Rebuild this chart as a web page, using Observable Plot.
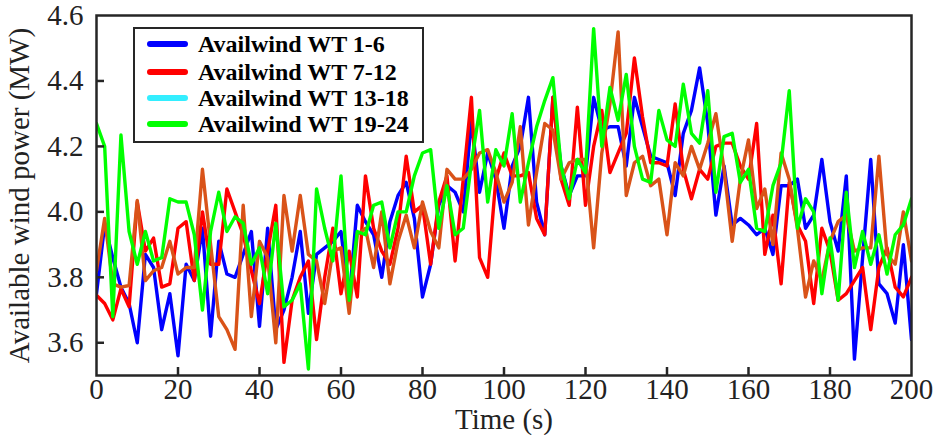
<!DOCTYPE html>
<html><head><meta charset="utf-8">
<script src="https://cdn.jsdelivr.net/npm/d3@7"></script>
<script src="https://cdn.jsdelivr.net/npm/@observablehq/plot@0.6"></script>
<style>
body{margin:0;background:#fff;}
#wrap{position:relative;width:933px;height:435px;}
#legend{position:absolute;left:133px;top:27px;width:287px;height:112px;border:2px solid #262626;background:#fff;font-family:"Liberation Serif";font-weight:bold;font-size:24px;color:#000;}
.row{position:absolute;left:0;height:26px;display:flex;align-items:center;white-space:nowrap;}
.sw{width:41px;height:6px;border-radius:3px;margin-left:12px;margin-right:10px;}
</style></head>
<body><div id="wrap"><div id="chart"></div><div id="legend"></div></div>
<script>
const time = [0,2,4,6,8,10,12,14,16,18,20,22,24,26,28,30,32,34,36,38,40,42,44,46,48,50,52,54,56,58,60,62,64,66,68,70,72,74,76,78,80,82,84,86,88,90,92,94,96,98,100,102,104,106,108,110,112,114,116,118,120,122,124,126,128,130,132,134,136,138,140,142,144,146,148,150,152,154,156,158,160,162,164,166,168,170,172,174,176,178,180,182,184,186,188,190,192,194,196,198,200];

const wt1_6 = [3.75,3.96,3.86,3.77,3.72,3.60,3.87,3.83,3.64,3.75,3.56,3.84,3.79,3.95,3.62,3.91,3.81,3.80,3.87,3.94,3.65,3.95,3.64,3.70,3.80,3.94,3.69,3.87,3.89,3.91,3.94,3.73,4.02,3.97,3.93,3.80,3.97,4.05,4.09,3.98,3.74,3.84,4.02,4.08,4.06,4.00,4.28,4.06,4.18,4.10,3.95,4.14,4.20,4.35,4.03,3.93,4.35,4.14,4.05,4.11,4.11,4.35,4.25,4.26,4.26,4.14,4.35,4.26,4.17,4.16,4.15,4.05,4.24,4.31,4.44,4.27,3.99,4.14,3.96,3.98,3.96,3.93,3.95,3.87,4.08,4.08,4.10,3.95,3.99,4.16,3.97,3.88,4.11,3.55,3.86,4.16,3.78,3.75,3.66,3.90,3.61];

const wt7_12 = [3.745,3.72,3.67,3.765,3.71,4.03,3.88,3.92,3.77,3.78,3.95,3.97,3.79,4.00,3.84,3.84,4.07,4.00,3.93,3.82,3.72,3.88,4.02,3.54,3.73,3.80,3.85,3.61,3.80,3.95,3.75,3.88,3.74,4.11,3.95,3.88,3.84,3.95,4.17,4.00,4.02,3.84,4.03,4.11,3.85,4.10,4.35,3.86,3.80,4.10,4.18,4.11,4.11,4.12,3.98,3.93,4.35,4.10,4.02,4.32,4.02,4.20,4.31,4.12,4.18,4.24,4.47,4.29,4.15,4.15,4.14,4.33,4.13,4.04,4.13,4.10,4.20,4.21,4.21,4.14,4.10,4.27,3.87,3.99,3.78,4.09,3.96,3.91,3.72,3.95,3.88,3.73,3.75,3.79,3.83,3.64,3.83,3.89,3.77,3.74,3.80];

const wt13_18 = [3.82,3.98,3.78,3.77,3.775,4.035,3.79,3.82,3.83,3.91,3.81,3.83,3.83,4.13,3.90,3.68,3.64,3.58,4.02,3.68,3.91,3.86,3.60,4.05,3.88,4.05,3.87,3.85,3.72,3.88,3.89,3.69,3.93,3.95,3.83,4.00,3.78,3.91,3.99,3.89,4.03,3.94,3.89,4.13,4.10,4.10,4.13,4.18,4.19,4.12,4.03,4.09,4.26,3.96,4.12,4.27,4.25,4.10,4.15,4.16,4.16,3.89,4.18,4.33,4.55,4.05,4.15,4.17,4.08,4.10,3.93,4.15,4.11,4.20,4.13,4.21,4.30,4.13,3.91,4.10,4.22,4.01,4.07,3.90,4.18,4.10,3.95,3.74,3.85,3.79,3.91,3.97,3.99,3.88,3.89,3.89,4.17,3.87,3.84,4.00,3.85];

const wt19_24 = [4.27,4.20,3.68,4.235,3.94,3.84,3.94,3.85,3.86,4.04,4.03,4.03,3.93,3.70,3.94,4.06,3.94,3.985,3.965,3.84,3.89,3.75,3.965,3.71,3.73,3.78,3.52,4.07,3.95,3.85,4.11,3.73,3.94,3.93,4.02,4.03,3.89,4.00,4.00,4.11,4.18,4.19,3.95,4.08,3.93,3.95,4.15,4.31,4.03,4.19,4.14,4.30,4.03,4.15,4.26,4.34,4.41,4.14,4.04,4.16,4.12,4.56,4.20,4.38,4.28,4.42,4.20,4.10,4.09,4.31,4.22,4.20,4.39,4.24,4.21,4.37,4.06,4.23,4.24,4.09,4.13,3.95,3.94,4.08,4.15,4.37,3.95,4.04,4.00,3.75,3.92,3.73,4.06,3.83,3.94,3.84,3.93,3.81,3.93,3.96,4.04];

const seriesNames = ["Availwind WT 1-6", "Availwind WT 7-12", "Availwind WT 13-18", "Availwind WT 19-24"];
const lineColors = ["#0000ff", "#ff0000", "#d95319", "#00ff00"];
const legendColors = ["#0000ff", "#ff0000", "#33eeff", "#00ff00"];
const xTicks = [0,20,40,60,80,100,120,140,160,180,200];
const yTicks = [3.6,3.8,4.0,4.2,4.4,4.6];

const W = 933, H = 435, ML = 96, MR = 22, MT = 15, MB = 60, TICK = 8;

const seriesValues = [wt1_6, wt7_12, wt13_18, wt19_24];
const lineMarks = seriesValues.map((vals, i) =>
  Plot.line(time.map((t, j) => ({t, v: vals[j]})), {
    x: "t", y: "v", stroke: lineColors[i], strokeWidth: 3.4,
    strokeLinejoin: "round", strokeLinecap: "round", clip: true
  })
);

const chart = Plot.plot({
  width: W, height: H,
  marginLeft: ML, marginRight: MR, marginTop: MT, marginBottom: MB,
  style: {fontFamily: "Liberation Serif", fontSize: "29px", color: "#262626", background: "white"},
  x: {domain: [0, 200]},
  y: {domain: [3.5, 4.6]},
  marks: [
    ...lineMarks,
    Plot.frame({stroke: "#262626", strokeWidth: 2.5}),
    Plot.tickX(xTicks.filter(d => d > 0 && d < 200), {x: d => d, insetTop: H - MT - MB - TICK, stroke: "#262626", strokeWidth: 2.5}),
    Plot.tickY(yTicks.filter(d => d < 4.6), {y: d => d, insetRight: W - ML - MR - TICK, stroke: "#262626", strokeWidth: 2.5}),
    Plot.axisX({ticks: xTicks, tickSize: 0, tickPadding: 3, tickFormat: d => String(d),
      label: "Time (s)", labelAnchor: "center", labelArrow: "none", labelOffset: 53, fontSize: 29, fill: "#222"}),
    Plot.axisY({ticks: yTicks, tickSize: 0, tickPadding: 13, tickFormat: d => d.toFixed(1),
      label: "Available wind power (MW)", labelAnchor: "center", labelArrow: "none", labelOffset: 88, fontSize: 29, fill: "#222"})
  ]
});
document.getElementById("chart").appendChild(chart);

const legend = document.getElementById("legend");
const rowTops = [2, 30, 56, 82];
seriesNames.forEach((name, i) => {
  const row = document.createElement("div");
  row.className = "row";
  row.style.top = rowTops[i] + "px";
  const sw = document.createElement("div");
  sw.className = "sw";
  sw.style.background = legendColors[i];
  const tx = document.createElement("span");
  tx.textContent = name;
  row.appendChild(sw); row.appendChild(tx);
  legend.appendChild(row);
});
</script>
</body></html>
